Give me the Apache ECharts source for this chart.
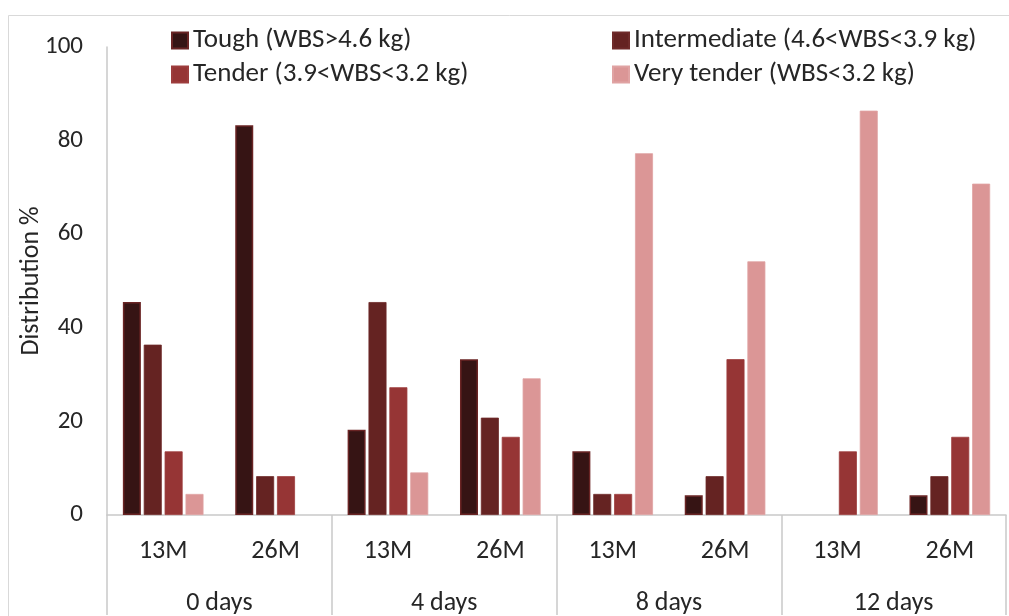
<!DOCTYPE html>
<html><head><meta charset="utf-8">
<script src="https://cdn.jsdelivr.net/npm/echarts@6/dist/echarts.min.js"></script>
<style>html,body{margin:0;padding:0;background:#fff}#c{width:1009px;height:616px}</style>
</head><body><div id="c"></div>
<script>
const ages = ['13M','26M','13M','26M','13M','26M','13M','26M'];
const groups = ['0 days','4 days','8 days','12 days'];
const seriesNames = ['Tough (WBS>4.6 kg)','Intermediate (4.6<WBS<3.9 kg)','Tender (3.9<WBS<3.2 kg)','Very tender (WBS<3.2 kg)'];
const tough        = [45.5, 83.3, 18.2, 33.3, 13.6, 4.2, 0, 4.2];
const intermediate = [36.4, 8.3, 45.5, 20.8, 4.5, 8.3, 0, 8.3];
const tender       = [13.6, 8.3, 27.3, 16.7, 4.5, 33.3, 13.6, 16.7];
const veryTender   = [4.5, 0, 9.1, 29.2, 77.3, 54.2, 86.4, 70.8];
const yTicks = [0, 20, 40, 60, 80, 100];

const FONT = 'Carlito, Lato, sans-serif';
const TXT = '#262626';
const AX = '#c9c9c9';
const fills = ['#361414', '#652322', '#963535', '#db9696'];
const borders = ['#6a2424', '#6f2b2a', '#9d3d3d', '#e0a3a3'];
const vals = [tough, intermediate, tender, veryTender];

const chart = echarts.init(document.getElementById('c'), null, {renderer: 'canvas'});
const legendPos = [[171, 27], [612, 27], [171, 61], [612, 61]];
chart.setOption({
  animation: false,
  backgroundColor: '#fff',
  textStyle: {fontFamily: FONT, color: TXT},
  graphic: [
    {type: 'rect', shape: {x: 8.5, y: 15.5, width: 1100, height: 800}, style: {fill: 'none', stroke: '#d9d9d9', lineWidth: 1}, z: -1}
  ],
  legend: seriesNames.map((n, i) => ({
    data: [n], left: legendPos[i][0], top: legendPos[i][1], padding: 0,
    itemWidth: 16, itemHeight: 16, itemGap: 0, icon: 'rect',
    textStyle: {fontFamily: FONT, fontSize: 27, color: TXT, padding: [0, 0, 0, 0]},
    selectedMode: false
  })),
  grid: {left: 107, right: 3, top: 47, bottom: 97, containLabel: false},
  xAxis: [{
    type: 'category', data: ages, position: 'bottom',
    axisLine: {lineStyle: {color: AX, width: 1.5}},
    axisTick: {show: false},
    axisLabel: {fontFamily: FONT, fontSize: 26, color: TXT, margin: 23, interval: 0}
  }, {
    type: 'category', data: groups, position: 'bottom',
    axisLine: {show: false},
    axisTick: {show: true, length: 100, interval: 0, lineStyle: {color: AX, width: 1.5}},
    axisLabel: {fontFamily: FONT, fontSize: 26, color: TXT, margin: 75, interval: 0}
  }],
  yAxis: {
    type: 'value', min: 0, max: 100, interval: 20,
    name: 'Distribution %', nameLocation: 'middle', nameGap: 63, nameRotate: 90,
    nameMoveOverlap: false,
    nameTextStyle: {fontFamily: FONT, fontSize: 26, color: TXT},
    axisLine: {show: true, lineStyle: {color: AX, width: 1.5}},
    axisTick: {show: false},
    splitLine: {show: false},
    axisLabel: {fontFamily: FONT, fontSize: 25, color: TXT, margin: 24,
      formatter: v => yTicks.includes(v) ? String(v) : ''}
  },
  series: seriesNames.map((n, i) => ({
    name: n, type: 'bar', xAxisIndex: 0,
    data: vals[i].map(v => v === 0 ? '-' : v),
    barWidth: 18, barGap: '16%',
    itemStyle: {color: fills[i], borderColor: borders[i], borderWidth: i === 0 ? 1.5 : 0.8}
  }))
});
</script></body></html>
